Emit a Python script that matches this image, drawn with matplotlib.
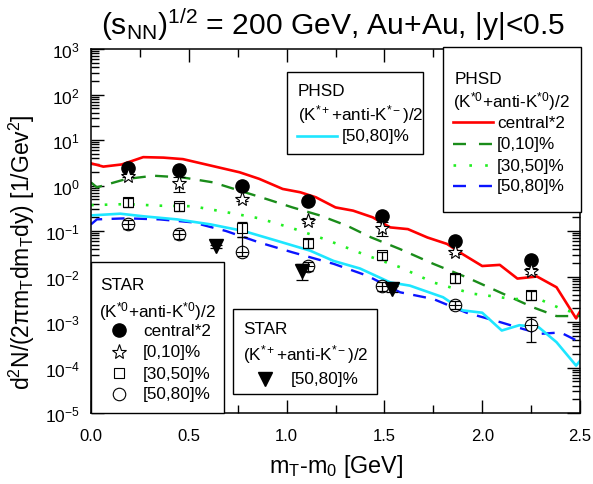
import math
import matplotlib
matplotlib.use("Agg")
import matplotlib.pyplot as plt
from matplotlib.lines import Line2D
from matplotlib.patches import Rectangle
from matplotlib.ticker import LogLocator, FixedLocator, NullFormatter, FuncFormatter

plt.rcParams['font.family'] = ['Liberation Sans', 'DejaVu Sans']
plt.rcParams['mathtext.fontset'] = 'custom'
plt.rcParams['mathtext.rm'] = 'Liberation Sans'
plt.rcParams['mathtext.it'] = 'Liberation Sans'
plt.rcParams['mathtext.bf'] = 'Liberation Sans:bold'
plt.rcParams['mathtext.sf'] = 'Liberation Sans'

# ---------------- data ----------------
# PHSD (K*0 + anti-K*0)/2
red_x = [0.0, 0.063, 0.157, 0.267, 0.37, 0.47, 0.76, 0.86, 0.98, 1.07, 1.15, 1.25, 1.34, 1.44,
         1.53, 1.62, 1.72, 1.82, 1.90, 2.0, 2.09, 2.18, 2.28, 2.38, 2.48, 2.5]
red_y = [3.07, 2.6, 2.9, 4.2, 4.1, 3.8, 1.95, 1.4, 0.84, 0.71, 0.55, 0.33, 0.28, 0.2,
         0.12, 0.11, 0.072, 0.052, 0.031, 0.017, 0.018, 0.009, 0.01, 0.0058, 0.0012, 0.0017]

green_x = [0.0, 0.03, 0.18, 0.32, 0.47, 0.625, 0.76, 0.90, 1.03, 1.17, 1.31, 1.43, 1.58, 1.75,
           1.92, 2.09, 2.26, 2.38, 2.48, 2.5]
green_y = [1.17, 0.91, 1.39, 1.64, 1.5, 1.17, 0.77, 0.5, 0.33, 0.22, 0.13, 0.073, 0.04, 0.019,
           0.0096, 0.0045, 0.0021, 0.00135, 0.00135, 0.00135]

lime_x = [0.0, 0.18, 0.35, 0.52, 0.69, 0.86, 1.03, 1.2, 1.41, 1.58, 1.75, 1.95, 2.16, 2.29, 2.41, 2.5]
lime_y = [0.37, 0.39, 0.36, 0.35, 0.26, 0.19, 0.115, 0.065, 0.029, 0.016, 0.0074, 0.0042, 0.0032,
          0.0032, 0.0019, 0.0015]

blue_x = [0.0, 0.03, 0.18, 0.35, 0.52, 0.69, 0.86, 1.03, 1.24, 1.41, 1.58, 1.75, 1.92, 2.09,
          2.21, 2.30, 2.40, 2.5]
blue_y = [0.14, 0.18, 0.19, 0.18, 0.155, 0.10, 0.056, 0.034, 0.019, 0.0105, 0.0045, 0.0032,
          0.0016, 0.001, 0.0007, 0.00055, 0.00059, 0.00036]

# PHSD (K*+ + anti-K*-)/2
cyan_x = [0.0, 0.15, 0.27, 0.44, 0.61, 0.78, 0.95, 1.12, 1.24, 1.375, 1.53, 1.63, 1.80, 1.90,
          2.0, 2.10, 2.19, 2.29, 2.38, 2.48, 2.5]
cyan_y = [0.22, 0.24, 0.21, 0.18, 0.14, 0.10, 0.061, 0.037, 0.022, 0.015, 0.0074, 0.0063, 0.0035,
          0.0018, 0.0016, 0.00065, 0.00085, 0.00076, 0.00036, 0.00011, 0.00014]

# STAR (K*0 + anti-K*0)/2
star_x = [0.19, 0.45, 0.77, 1.11, 1.49, 1.86, 2.25]
central2 = [2.4, 2.2, 1.0, 0.46, 0.21, 0.061, 0.023]
c0_10 = [1.6, 1.13, 0.50, 0.17, 0.115, 0.035, 0.0134]
c0_10_err = [0.1, 0.41, 0.05, 0.02, 0.039, 0.004, 0.002]
c30_50 = [0.43, 0.35, 0.115, 0.054, 0.029, 0.0093, 0.0039]
c30_50_err = [0.09, 0.07, 0.04, 0.012, 0.006, 0.002, 0.0008]
c50_80 = [0.142, 0.085, 0.035, 0.017, 0.0061, 0.0024, 0.00085]
c50_80_lo = [0.03, 0.018, 0.007, 0.0035, 0.0013, 0.0005, 0.00049]
c50_80_hi = [0.03, 0.018, 0.04, 0.0035, 0.0013, 0.0005, 0.00045]

# STAR (K*+ + anti-K*-)/2
kp_x = [0.64, 1.08, 1.54]
kp_y = [0.046, 0.0134, 0.0053]
kp_err = [0.004, 0.005, 0.0008]

# ---------------- figure ----------------
W, H = 593, 485
fig = plt.figure(figsize=(W / 100, H / 100), dpi=100)
ax = fig.add_axes([91 / W, 1 - 414 / H, 489 / W, 364 / H])

def fx(x):
    return x / W

def fy(y):
    return 1 - y / H

RED = '#ff0000'
GREEN = '#1a8c1a'
LIME = '#22ee22'
BLUE = '#0a14ff'
CYAN = '#1ee6ff'

ax.plot(red_x, red_y, color=RED, lw=1.9, zorder=2)
ax.plot(green_x, green_y, color=GREEN, lw=1.7, dashes=(5.5, 4.0), zorder=2)
ax.plot(lime_x, lime_y, color=LIME, lw=1.9, dashes=(1.0, 4.2), zorder=2)
ax.plot(blue_x, blue_y, color=BLUE, lw=1.7, dashes=(5.5, 4.0), zorder=2)
ax.plot(cyan_x, cyan_y, color=CYAN, lw=1.9, zorder=2)

# STAR points
ebkw = dict(fmt='none', ecolor='black', elinewidth=0.9, capsize=3.5, capthick=0.9)
ax.plot(star_x, central2, 'o', color='black', ms=9.5, zorder=4)
ax.errorbar(star_x, c0_10, yerr=c0_10_err, fmt='*', ms=11, mfc='white', mec='black', mew=0.8,
            ecolor='black', elinewidth=0.9, capsize=4, capthick=0.9, zorder=4)
ax.plot(star_x, c30_50, 's', ms=7.5, mfc='white', mec='black', mew=0.8, zorder=4)
ax.errorbar(star_x, c30_50, yerr=c30_50_err, zorder=5, **ebkw)
ax.plot(star_x, c50_80, 'o', ms=9, mfc='white', mec='black', mew=0.8, zorder=4)
ax.errorbar(star_x, c50_80, yerr=[c50_80_lo, c50_80_hi], zorder=5, **ebkw)
ax.plot(star_x, c50_80, '_', color='black', ms=9, mew=0.8, zorder=5)
ax.errorbar(kp_x, kp_y, yerr=kp_err, fmt='v', ms=10, color='black', ecolor='black',
            elinewidth=0.9, capsize=4, capthick=0.9, zorder=4)

ax.set_xlim(0, 2.5)
ax.set_yscale('log')
ax.set_ylim(1e-5, 1e3)

ax.xaxis.set_major_locator(FixedLocator([0, 0.5, 1.0, 1.5, 2.0, 2.5]))
ax.xaxis.set_minor_locator(FixedLocator([0.25, 0.75, 1.25, 1.75, 2.25]))
ax.xaxis.set_major_formatter(FuncFormatter(lambda v, p: f"{v:.1f}"))
ax.yaxis.set_major_locator(LogLocator(base=10, numticks=20))
ax.yaxis.set_minor_locator(LogLocator(base=10, subs=range(2, 10), numticks=100))
ax.yaxis.set_minor_formatter(NullFormatter())
ax.yaxis.set_major_formatter(FuncFormatter(lambda v, p: r'$10^{%d}$' % round(math.log10(v))))

ax.tick_params(which='both', direction='in', top=True, right=True, width=1.0, color='black')
ax.tick_params(which='major', length=9.5)
ax.tick_params(which='minor', length=5.5)
ax.tick_params(axis='x', which='major', labelsize=12, pad=11)
ax.tick_params(axis='y', which='major', labelsize=12.5, pad=8)
for s in ax.spines.values():
    s.set_linewidth(1.1)

# labels
fig.text(fx(333), fy(35), r'(s$_{\mathrm{NN}}$)$^{1/2}$ = 200 GeV, Au+Au, |y|<0.5',
         fontsize=21.6, ha='center', va='baseline')
fig.text(fx(336), fy(467), r'm$_{\mathrm{T}}$-m$_{0}$ [GeV]', fontsize=16.8, ha='center', va='center')
fig.text(fx(22), fy(252), r'd$^{2}$N/(2$\pi$m$_{\mathrm{T}}$dm$_{\mathrm{T}}$dy) [1/Gev$^{2}$]',
         fontsize=16.5, ha='center', va='center', rotation=90)

LFS = 12.3

def box(x0, y0, x1, y1):
    fig.patches.append(Rectangle((fx(x0), fy(y1)), (x1 - x0) / W, (y1 - y0) / H,
                                 transform=fig.transFigure, facecolor='white',
                                 edgecolor='black', lw=1.0, zorder=10))

def txt(x, y, s):
    fig.text(fx(x), fy(y), s, fontsize=LFS, ha='left', va='center', zorder=11)

def lseg(x0, x1, y, **kw):
    fig.lines.append(Line2D([fx(x0), fx(x1)], [fy(y), fy(y)], transform=fig.transFigure,
                            zorder=11, **kw))

def lmark(x, y, **kw):
    fig.lines.append(Line2D([fx(x)], [fy(y)], transform=fig.transFigure, zorder=11, ls='none', **kw))

# PHSD K*+ box
box(287, 73, 423, 155)
txt(298, 92, 'PHSD')
txt(298, 115, r'(K$^{*+}$+anti-K$^{*-}$)/2')
lseg(297, 337, 137, color=CYAN, lw=1.9)
txt(342, 137, '[50,80]%')

# PHSD K*0 box
box(443, 48, 581, 213)
txt(455, 79, 'PHSD')
txt(453, 102, r'(K$^{*0}$+anti-K$^{*0}$)/2')
lseg(453, 493, 123, color=RED, lw=1.9)
txt(497, 123, 'central*2')
lseg(453, 493, 144.5, color=GREEN, lw=1.7, dashes=(5.5, 5.5))
txt(497, 144.5, '[0,10]%')
lseg(453, 493, 166, color=LIME, lw=1.9, dashes=(1.0, 5.0))
txt(497, 166, '[30,50]%')
lseg(453, 493, 187, color=BLUE, lw=1.7, dashes=(5.5, 5.5))
txt(497, 187, '[50,80]%')

# STAR K*0 box
box(91, 263, 224, 414)
txt(100, 285, 'STAR')
txt(99, 312, r'(K$^{*0}$+anti-K$^{*0}$)/2')
lmark(119, 331, marker='o', color='black', ms=9.5)
txt(143, 331, 'central*2')
lmark(119, 353, marker='*', mfc='white', mec='black', ms=11, mew=0.8)
txt(143, 353, '[0,10]%')
lmark(119, 374, marker='s', mfc='white', mec='black', ms=7.5, mew=0.8)
txt(143, 374, '[30,50]%')
lmark(119, 395, marker='o', mfc='white', mec='black', ms=9, mew=0.8)
txt(143, 395, '[50,80]%')

# STAR K*+ box
box(233, 310, 377, 395)
txt(243, 329, 'STAR')
txt(243, 355, r'(K$^{*+}$+anti-K$^{*-}$)/2')
lmark(265, 380, marker='v', color='black', ms=10)
txt(291, 380, '[50,80]%')

fig.savefig('out.png', dpi=100)
